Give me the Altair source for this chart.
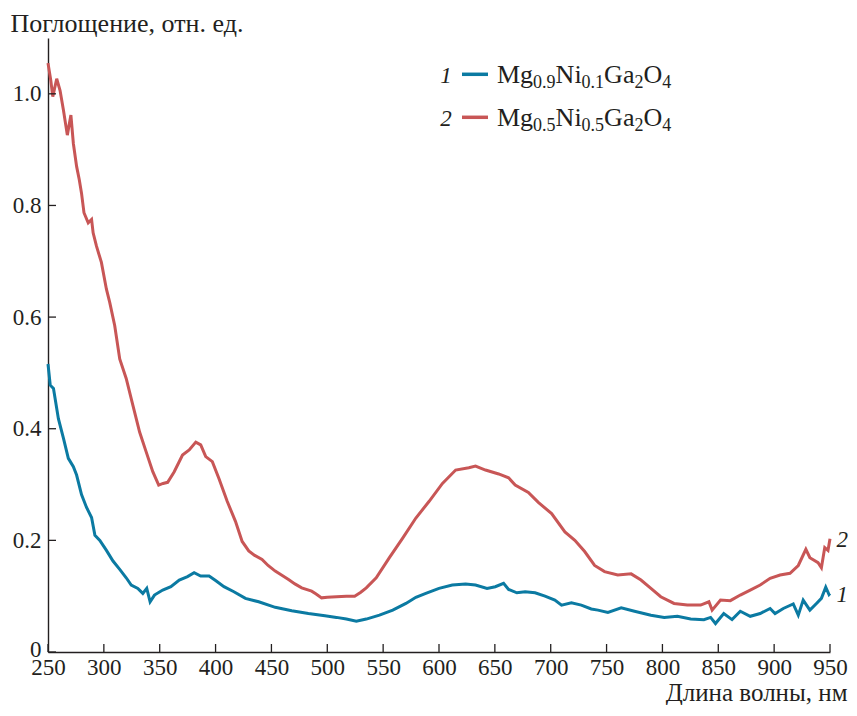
import altair as alt
import pandas as pd

# ---- data ----
red_nm = [250, 252.5, 254.3, 257.8, 260.8, 263.8, 267.3, 270.5, 272.7, 275.6, 278, 280, 282.2, 286, 289,
          290.4, 293.4, 297.8, 302.3, 305.3, 309.7, 314.2, 320, 326, 332, 337.8, 343.8, 349.1, 353, 357.1,
          363, 370.4, 376.4, 382.3, 386.7, 391.2, 397.1, 403, 410.4, 417.8, 423.8, 429.7, 435, 441.6, 447,
          453.4, 459, 465.3, 471, 477.1, 486, 490, 494.9, 500, 508.2, 517.1, 524.5, 530, 534.9, 543.8,
          555.6, 567.5, 579.3, 591.2, 603.1, 614.9, 626.7, 632.7, 641.6, 653.4, 662.3, 668.2, 680, 688.9,
          700.8, 712.7, 721.6, 730.4, 739.3, 748.2, 760, 772, 780.8, 789.7, 798.5, 810.4, 822.3, 834.2,
          841.6, 844.5, 852, 860.8, 869.7, 878.6, 887.5, 896.4, 905.3, 914.2, 921.6, 928.4, 932, 939.3,
          942.3, 945.3, 948.2, 950]
red_abs = [1.055, 1.024, 0.995, 1.027, 1.006, 0.971, 0.926, 0.962, 0.911, 0.870, 0.846, 0.822, 0.787, 0.769, 0.775,
           0.751, 0.727, 0.698, 0.650, 0.626, 0.585, 0.525, 0.490, 0.442, 0.394, 0.359, 0.323, 0.299, 0.302, 0.304,
           0.323, 0.353, 0.362, 0.376, 0.371, 0.350, 0.341, 0.311, 0.270, 0.234, 0.198, 0.181, 0.173, 0.166, 0.155,
           0.145, 0.138, 0.130, 0.122, 0.115, 0.109, 0.104, 0.097, 0.098, 0.099, 0.100, 0.100, 0.107, 0.115, 0.133,
           0.169, 0.204, 0.240, 0.270, 0.302, 0.326, 0.330, 0.333, 0.326, 0.319, 0.312, 0.299, 0.286, 0.268,
           0.248, 0.215, 0.200, 0.180, 0.155, 0.144, 0.138, 0.140, 0.129, 0.114, 0.099, 0.087, 0.084, 0.084,
           0.090, 0.075, 0.093, 0.092, 0.102, 0.111, 0.120, 0.132, 0.138, 0.141, 0.155, 0.184, 0.169, 0.160,
           0.151, 0.187, 0.182, 0.203]

blue_nm = [250, 252, 254.9, 259.3, 263.8, 268.2, 272.7, 275.6, 280, 284.5, 289, 292, 296.4, 302.3, 308.2,
           314.2, 320, 324.5, 330.4, 334.9, 338.4, 341.4, 345.3, 352.7, 360, 367.5, 374.9, 380.8, 386.7, 394.2,
           400, 407.5, 416.4, 426.7, 438.6, 453.4, 468.2, 483.1, 497.9, 508.2, 517.1, 526, 534.9, 546.7, 558.6,
           570.4, 579.3, 588.2, 600, 611.9, 623.8, 632.7, 643, 650.4, 657.8, 662.3, 669.7, 677.1, 686, 694.9,
           703.7, 709.7, 718.5, 727.4, 736.3, 742.3, 751.2, 763.1, 775, 789.7, 801.6, 813.4, 825.3, 837.1,
           843.1, 847.5, 854.9, 862.3, 869.7, 878.6, 887.5, 896.4, 900.8, 908.2, 917.1, 921.6, 926, 932,
           937.9, 942.3, 946.2, 949.1, 950]
blue_abs = [0.516, 0.478, 0.472, 0.418, 0.383, 0.347, 0.332, 0.317, 0.282, 0.259, 0.241, 0.209, 0.200, 0.182, 0.163,
            0.148, 0.133, 0.120, 0.114, 0.105, 0.114, 0.090, 0.102, 0.111, 0.117, 0.129, 0.135, 0.142, 0.136, 0.136,
            0.128, 0.117, 0.108, 0.096, 0.090, 0.080, 0.074, 0.069, 0.065, 0.062, 0.059, 0.055, 0.059, 0.066, 0.075,
            0.087, 0.098, 0.105, 0.114, 0.120, 0.122, 0.120, 0.114, 0.117, 0.123, 0.112, 0.106, 0.108, 0.106, 0.100,
            0.093, 0.084, 0.088, 0.084, 0.077, 0.075, 0.071, 0.079, 0.073, 0.066, 0.062, 0.064, 0.059, 0.058,
            0.062, 0.051, 0.069, 0.058, 0.073, 0.064, 0.069, 0.078, 0.069, 0.078, 0.086, 0.066, 0.093, 0.075,
            0.087, 0.096, 0.116, 0.103, 0.105]

x_ticks = list(range(250, 951, 50))
y_ticks = [0, 0.2, 0.4, 0.6, 0.8, 1.0]
series_ids = ["1", "2"]
series_colors = ["#0b7aa2", "#c85656"]
# formula pieces: (text, is_subscript)
formulas = [
    [("Mg", False), ("0.9", True), ("Ni", False), ("0.1", True), ("Ga", False), ("2", True), ("O", False), ("4", True)],
    [("Mg", False), ("0.5", True), ("Ni", False), ("0.5", True), ("Ga", False), ("2", True), ("O", False), ("4", True)],
]
x_title = "Длина волны, нм"
y_title = "Поглощение, отн. ед."

# ---- layout / style ----
W, H = 782, 614
FONT = "Liberation Serif"
INK = "#231f20"

df = pd.concat([
    pd.DataFrame({"nm": blue_nm, "abs": blue_abs, "series": series_ids[0]}),
    pd.DataFrame({"nm": red_nm, "abs": red_abs, "series": series_ids[1]}),
])

xs = alt.Scale(domain=[250, 950], nice=False, zero=False)
ys = alt.Scale(domain=[0, 1.1], nice=False, zero=False)

common = dict(ticks=False, tickSize=0, grid=False, labelFlush=False,
              domainColor=INK, domainWidth=1.4,
              labelFont=FONT, labelFontSize=23, labelColor=INK,
              titleFont=FONT, titleColor=INK, titleFontWeight="normal")

x_axis = alt.Axis(
    values=x_ticks, labelPadding=4, title=x_title, titleFontSize=25,
    titleAlign="right", titleX=W + 17, titleY=48,
    titleBaseline="alphabetic", titleAnchor="end", **common)
y_axis = alt.Axis(
    values=y_ticks, labelPadding=7, labelExpr="datum.value == 0 ? '0' : format(datum.value, '.1f')",
    labelOffset={"condition": {"test": "datum.value == 0", "value": -3}, "value": 0},
    title=y_title, titleFontSize=26, titleAngle=0, titleAlign="left", titleX=-38, titleY=-7,
    titleBaseline="alphabetic", titleAnchor="end", **common)

lines = alt.Chart(df).mark_line(strokeWidth=3).encode(
    x=alt.X("nm:Q", scale=xs, axis=x_axis),
    y=alt.Y("abs:Q", scale=ys, axis=y_axis),
    color=alt.Color("series:N", scale=alt.Scale(domain=series_ids, range=series_colors), legend=None),
)

xtick = alt.Chart(pd.DataFrame({"t": x_ticks})).mark_rule(color=INK, strokeWidth=1.3).encode(
    x=alt.X("t:Q", scale=xs, axis=x_axis), y=alt.value(H), y2=alt.value(H - 8))
ytick = alt.Chart(pd.DataFrame({"t": y_ticks})).mark_rule(color=INK, strokeWidth=1.3).encode(
    y=alt.Y("t:Q", scale=ys, axis=y_axis), x=alt.value(0), x2=alt.value(8))

layers = [lines, xtick, ytick]

# legend built from text pieces (Times metrics)
adv = {"M": 0.889, "g": 0.5, "N": 0.722, "i": 0.278, "G": 0.722, "a": 0.444, "O": 0.722, ".": 0.25}
MAIN, SUB = 26, 18
row_base = [45, 88]
for r, parts in enumerate(formulas):
    color = series_colors[r]
    base = row_base[r]
    layers.append(alt.Chart(pd.DataFrame({"s": [series_ids[r]]})).mark_text(
        font=FONT, fontSize=23, fontStyle="italic", color=INK, align="center", baseline="alphabetic").encode(
        text="s:N", x=alt.value(398), y=alt.value(base)))
    layers.append(alt.Chart(pd.DataFrame({"s": [series_ids[r]]})).mark_rule(
        color=color, strokeWidth=3.5).encode(
        x=alt.value(414), x2=alt.value(440), y=alt.value(base - 8.7)))
    xpos = 449.0
    for txt, sub in parts:
        fs = SUB if sub else MAIN
        layers.append(alt.Chart(pd.DataFrame({"s": [txt]})).mark_text(
            font=FONT, fontSize=fs, color=INK, align="left", baseline="alphabetic").encode(
            text="s:N", x=alt.value(xpos), y=alt.value(base + (5 if sub else 0))))
        xpos += sum(adv.get(c, 0.5) for c in txt) * fs

# curve end labels
for sid, (lx, ly) in zip(series_ids, [(800, 564), (800, 509)]):
    layers.append(alt.Chart(pd.DataFrame({"s": [sid]})).mark_text(
        font=FONT, fontSize=23, fontStyle="italic", color=INK, align="right", baseline="alphabetic").encode(
        text="s:N", x=alt.value(lx), y=alt.value(ly)))

chart = alt.layer(*layers).properties(
    width=W, height=H,
    autosize=alt.AutoSizeParams(type="none"),
    padding={"left": 40, "top": 30, "right": 19, "bottom": 53},
).configure_view(stroke=None)

chart.save("out.html", embed_options={"renderer": "svg", "actions": False})
